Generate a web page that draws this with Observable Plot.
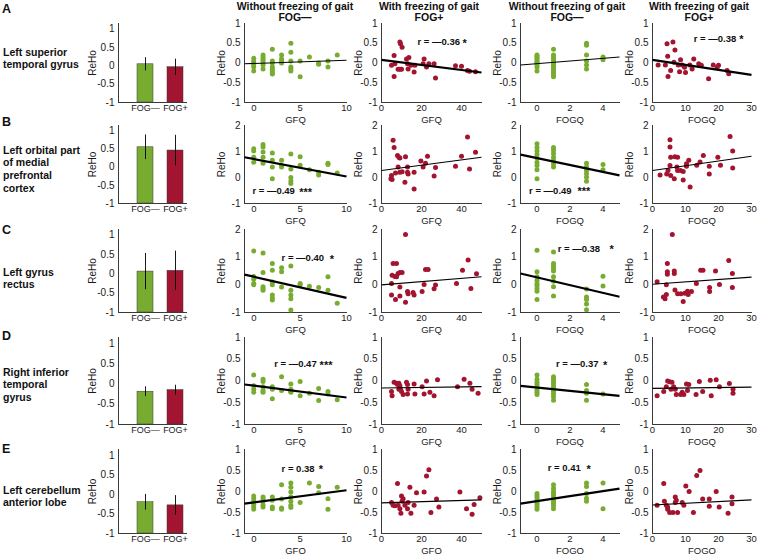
<!DOCTYPE html>
<html><head><meta charset="utf-8">
<script src="https://cdn.jsdelivr.net/npm/d3@7"></script>
<script src="https://cdn.jsdelivr.net/npm/@observablehq/plot@0.6"></script>
<style>
html,body{margin:0;padding:0;background:#fff;}
#chart{position:relative;width:758px;height:554px;overflow:hidden;background:#fff;font-family:Arial,'Liberation Sans',Helvetica,sans-serif;color:#111;}
.lab{position:absolute;white-space:nowrap;line-height:1.2;}
</style>
</head><body><div id="chart"></div>
<script>
// ---------- DATA ----------
const barGroups = ["FOG—", "FOG+"];
const barMeanA = [0.04, -0.04], barErrA = [0.18, 0.22];
const barMeanB = [0.55, 0.46], barErrB = [0.34, 0.42];
const barMeanC = [0.06, 0.08], barErrC = [0.47, 0.51];
const barMeanD = [-0.19, -0.15], barErrD = [0.12, 0.12];
const barMeanE = [-0.2, -0.28], barErrE = [0.2, 0.25];

const regionA = ["Left superior", "temporal gyrus"];
const regionB = ["Left orbital part", "of medial", "prefrontal", "cortex"];
const regionC = ["Left gyrus", "rectus"];
const regionD = ["Right inferior", "temporal", "gyrus"];
const regionE = ["Left cerebellum", "anterior lobe"];
const rowLetters = ["A", "B", "C", "D", "E"];
const colTitles = [["Without freezing of gait", "FOG—"], ["With freezing of gait", "FOG+"], ["Without freezing of gait", "FOG—"], ["With freezing of gait", "FOG+"]];
const xLabels = ["GFQ", "GFQ", "FOGQ", "FOGQ"];

// scatter points [score, ReHo]
const A1 = [[0,0.12],[0,0.05],[0,0],[0,-0.05],[0,-0.1],[0,-0.2],[1,0.2],[1,0.15],[1,0.1],[1,0.05],[1,0],[1,-0.05],[1,-0.15],[2,0.35],[2,0.05],[2,0],[2,-0.1],[2,-0.15],[2,-0.2],[2,-0.25],[2,-0.28],[3,0.2],[3,0.1],[3,0.05],[3,0],[4,0.5],[4,0.27],[4,0.05],[4,-0.1],[4,-0.15],[4,-0.2],[5,0.05],[5,-0.35],[6,0.15],[7,0],[7,-0.03],[8,0.05],[8,-0.1],[9,0.2]];
const A2 = [[6.3,0.19],[6.7,-0.02],[9.2,0.53],[9.5,0.49],[10.3,0.4],[6.3,-0.34],[8.3,-0.16],[9.2,-0.16],[10,-0.16],[5,-0.06],[12.5,0.1],[13.7,0.14],[13,-0.02],[14.7,-0.06],[13.3,-0.15],[16.7,-0.06],[16.3,-0.23],[20.8,-0.02],[21.3,0.1],[22.5,-0.1],[23.7,-0.02],[26.3,-0.02],[27,-0.38],[37,-0.07],[40,-0.08],[43,-0.19],[44,-0.21],[47,-0.22]];
const A3 = [[0,0.2],[0,0.17],[0,0.13],[0,0.1],[0,0.05],[0,0.02],[0,0],[0,-0.05],[0,-0.1],[0,-0.2],[1,0.35],[1,0.2],[1,0.15],[1,0.1],[1,0.05],[1,0],[1,-0.02],[1,-0.05],[1,-0.1],[1,-0.15],[1,-0.2],[1,-0.25],[1,-0.3],[1,-0.35],[3,0.5],[3,0.45],[3,0.2],[3,0.05],[3,-0.05],[3,-0.15],[4,0.15],[4,0.12],[4,0.08]];
const A4 = [[1.7,-0.05],[3.9,-0.05],[4.4,0.49],[4.6,0.17],[4.7,-0.34],[5.5,-0.19],[6.5,0.02],[6.2,0.53],[6.8,0.33],[8.2,-0.22],[7.8,-0.05],[8.5,0.08],[9,-0.05],[10,-0.24],[9.7,-0.11],[11.3,-0.05],[12,-0.15],[12.5,0.1],[14,-0.02],[14.8,-0.06],[17,-0.4],[18.4,-0.05],[19.6,-0.11],[20,-0.06],[22.6,-0.19],[23.1,-0.27]];

const B1 = [[0,1.11],[0,1.02],[0,0.78],[0,0.59],[1,1.27],[1,1.17],[1,0.98],[1,0.78],[1,0.55],[2,0.94],[2,0.66],[2,0.4],[2,-0.05],[3,0.66],[3,0.47],[3,0.4],[4,0.9],[4,0.33],[4,0],[4,-0.13],[4,-0.23],[5,0.8],[5,0.47],[6,0.3],[7,0.2],[7,0.1],[8,0.55],[8,0.5],[9,0.17]];
const B2 = [[5.8,1.43],[6.3,1.15],[7,0.17],[5,0.08],[4.7,-0.05],[5.3,-0.08],[8,0.85],[8.7,0.78],[9.2,0.75],[8.3,0.4],[9.2,0.2],[10.3,0.22],[11.7,-0.18],[12,0.8],[13,0.4],[13,0.2],[13.3,0.13],[16.3,-0.44],[16.3,0.2],[19.7,0.63],[20.8,0.4],[22,0.55],[23,0.82],[26.3,0.06],[27,0.38],[37,0.43],[40,0.82],[43,1.56],[44,0.33],[47,0.97]];
const B3 = [[0,1.3],[0,1.15],[0,1.02],[0,0.88],[0,0.75],[0,0.59],[0,0.46],[0,0.3],[0,-0.05],[1,1.15],[1,1.05],[1,0.92],[1,0.78],[1,0.66],[1,0.53],[1,0.4],[3,0.55],[3,0.4],[3,0.27],[3,0.14],[3,0.01],[3,-0.14],[4,0.5],[4,0.3]];
const B4 = [[2.3,0.1],[4.3,0.13],[4.7,0.27],[5.3,1.45],[5.3,1.17],[5.5,0.78],[5.3,0.46],[5.5,0.08],[6.6,-0.05],[6.8,0.8],[7.6,0.78],[7.4,0.4],[7.6,0.27],[8.5,0.27],[9.3,0.23],[9.3,-0.1],[10.3,0.43],[10.3,0.53],[11,0.66],[11.4,-0.37],[13.4,0.47],[14.4,0.6],[15.4,0.85],[17.2,0.13],[17.2,0.43],[19.8,0.78],[20.6,0.47],[23.5,1.58],[24.3,1.02],[24.3,0.37]];

const C1 = [[0,1.22],[0,0.3],[0,0.2],[0,0.05],[0,0],[1,1.15],[1,0.45],[1,-0.07],[1,-0.13],[1,-0.2],[2,0.77],[2,0.53],[2,0.1],[2,0],[2,-0.37],[2,-0.48],[2,-0.55],[3,0.62],[3,0.47],[3,-0.08],[4,0.68],[4,-0.2],[4,-0.37],[4,-0.5],[4,-0.91],[5,0.05],[5,0],[6,-0.05],[7,-0.1],[8,0.29],[8,-0.2],[9,-0.67]];
const C2 = [[12,1.82],[5.8,0.77],[7.5,0.77],[5.3,0.35],[7.5,0.29],[8.3,0.41],[9.2,0.45],[10.3,0.45],[6.7,0.3],[5,0.05],[5,-0.37],[7,-0.53],[9.2,-0.08],[9.2,-0.4],[12,-0.63],[13,-0.24],[13.3,-0.32],[15.8,-0.28],[16.3,-0.37],[20.3,-0.24],[21.3,0.01],[22,0.55],[23.3,0.55],[26.3,-0.14],[27,-0.01],[37.5,0.05],[40.5,0.53],[43.3,0.9],[44.7,-0.13],[47.5,0.4]];
const C3 = [[0,1.25],[0,0.47],[0,0.29],[0,0.17],[0,0.05],[0,-0.02],[0,-0.13],[0,-0.23],[0,-0.53],[1,1.19],[1,0.77],[1,0.68],[1,0.6],[1,0.5],[1,0.29],[1,0.13],[1,-0.07],[1,-0.4],[3,-0.15],[3,-0.44],[3,-0.53],[3,-0.69],[3,-0.9],[4,0.31],[4,-0.04]];
const C4 = [[1.4,0.11],[6,1.82],[4.5,0.77],[4.5,0.47],[4.5,0.38],[4.2,0],[4.2,-0.35],[3.3,-0.44],[3.8,-0.5],[6.6,0.41],[6.6,0.5],[6.8,-0.19],[7.6,-0.32],[8.6,-0.32],[9.3,-0.6],[9.8,-0.3],[10.6,-0.23],[10.8,-0.35],[11.8,-0.24],[13.3,0.05],[14.6,0.53],[15.3,0.53],[17.3,-0.1],[17.3,-0.24],[19.1,0.5],[20.3,0.01],[23.1,0.88],[24.2,0.41],[24.2,-0.1]];

const D1 = [[0,0.14],[0,-0.11],[0,-0.19],[0,-0.26],[1,0.04],[1,-0.01],[1,-0.13],[1,-0.22],[1,-0.26],[2,-0.13],[2,-0.19],[2,-0.41],[3,0.1],[3,-0.22],[4,-0.07],[4,-0.19],[4,-0.24],[4,-0.26],[5,-0.01],[5,-0.34],[6,-0.28],[7,-0.17],[7,-0.45],[8,-0.24],[8,-0.3],[9,-0.43]];
const D2 = [[5,-0.24],[5.3,-0.34],[6.3,-0.03],[7.5,-0.05],[8,-0.08],[8.7,-0.05],[9.2,-0.11],[8.7,-0.19],[9.5,-0.19],[10,-0.24],[10.8,-0.31],[12.5,-0.03],[13,-0.08],[13.3,-0.19],[13,-0.3],[16.3,-0.07],[16.7,-0.3],[20.3,-0.13],[21.3,-0.3],[22.5,0],[24.2,-0.26],[26.3,-0.34],[28,0.03],[38,-0.13],[41.3,0.04],[44.2,-0.05],[45.3,-0.19],[48.3,-0.28]];
const D3 = [[0,0.14],[0,0.04],[0,-0.03],[0,-0.08],[0,-0.15],[0,-0.21],[0,-0.26],[0,-0.31],[1,0.1],[1,0.04],[1,-0.01],[1,-0.07],[1,-0.13],[1,-0.19],[1,-0.24],[1,-0.3],[1,-0.36],[1,-0.44],[3,-0.08],[3,-0.22],[3,-0.28],[3,-0.44],[4,-0.3]];
const D4 = [[1.4,-0.34],[3.4,-0.24],[4.2,-0.13],[4.6,0],[5.2,-0.02],[5.9,-0.03],[5.6,-0.19],[6.4,-0.13],[6.9,-0.19],[7.2,-0.31],[8.5,-0.31],[9,-0.26],[9.5,-0.31],[10.3,-0.07],[11,-0.08],[10.6,-0.22],[13.2,-0.31],[14.2,-0.01],[15.2,-0.24],[17.5,0.02],[17.8,-0.34],[19.3,0.03],[20.3,-0.13],[23.3,-0.06],[24.4,-0.19],[24.4,-0.28]];

const E1 = [[0,-0.11],[0,-0.17],[0,-0.23],[0,-0.31],[0,-0.37],[0,-0.42],[1,-0.13],[1,-0.18],[1,-0.24],[1,-0.32],[1,-0.37],[2,-0.13],[2,-0.21],[2,-0.37],[2,-0.41],[3,0.16],[3,-0.18],[3,-0.39],[3,-0.42],[4,0.2],[4,0.1],[4,-0.01],[4,-0.13],[4,-0.23],[4,-0.33],[4,-0.38],[5,-0.26],[6,0.2],[7,0.12],[7,-0.03],[8,-0.17],[8,-0.42],[9,0.1]];
const E2 = [[5,-0.26],[5.8,-0.33],[6.7,-0.34],[8,0.19],[8.3,-0.33],[9.2,-0.41],[9.7,-0.52],[10,-0.11],[10.8,-0.17],[10.3,-0.23],[11.7,-0.33],[13,-0.41],[13.3,-0.26],[14.2,0.1],[14.7,-0.52],[16.3,-0.33],[17.5,-0.03],[21.3,-0.01],[22.5,0.37],[23.7,0.52],[24.7,-0.5],[27.5,-0.18],[28.7,-0.37],[39.2,-0.01],[42.5,-0.41],[45.3,-0.54],[46.3,-0.31],[49.2,-0.15]];
const E3 = [[0,-0.05],[0,-0.1],[0,-0.15],[0,-0.21],[0,-0.26],[0,-0.31],[0,-0.37],[0,-0.42],[1,0.16],[1,0.08],[1,0],[1,-0.05],[1,-0.1],[1,-0.17],[1,-0.23],[1,-0.28],[1,-0.34],[1,-0.41],[3,0.2],[3,0.12],[3,-0.05],[3,-0.16],[3,-0.23],[4,0.2],[4,-0.41]];
const E4 = [[1.4,-0.33],[3.4,0.19],[3.6,-0.23],[4.2,-0.33],[4.6,-0.37],[4.6,-0.42],[5.2,-0.5],[6.2,-0.5],[6.9,-0.26],[6.9,-0.13],[7.2,-0.21],[7.6,-0.5],[9,-0.26],[9.5,-0.33],[10.1,0.13],[11.1,0],[12.4,-0.5],[13.4,0.38],[14.4,0.5],[15.2,-0.18],[17.2,-0.35],[17.2,-0.18],[19.3,0],[20.2,-0.37],[22.9,-0.52],[24.1,-0.13],[24.1,-0.29]];

// fitted lines [xStart, yStart, xEnd, yEnd] per column
const fitA = [[-1,-0.02,10,0.07],[0,0.08,50,-0.24],[-1,-0.05,5,0.15],[0,0.08,30,-0.3]];
const fitB = [[-1,0.78,10,0.04],[0,0.27,50,0.78],[-1,0.88,5,0.08],[0,0.27,30,0.82]];
const fitC = [[-1,0.37,10,-0.47],[0,0,50,0.29],[-1,0.41,5,-0.43],[0,0.02,30,0.28]];
const fitD = [[-1,-0.08,10,-0.38],[0,-0.16,50,-0.13],[-1,-0.11,5,-0.34],[0,-0.17,30,-0.14]];
const fitE = [[-1,-0.29,10,0.03],[0,-0.27,50,-0.2],[-1,-0.29,5,0.07],[0,-0.32,30,-0.2]];

// correlation notes [r text, stars] per column (null = not significant)
const statA = [null, ["r = —0.36", "*"], null, ["r = —0.38", "*"]];
const statB = [["r = —0.49", "***"], null, ["r = —0.49", "***"], null];
const statC = [["r = —0.40", "*"], null, ["r = —0.38", "*"], null];
const statD = [["r = —0.47", "***"], null, ["r = —0.37", "*"], null];
const statE = [["r = 0.38", "*"], null, ["r = 0.41", "*"], null];

// ---------- LAYOUT / STYLE ----------
const GREEN = "#77AC30", RED = "#A2142F", AX = "#3a3a3a";
const FONT = "Arial, 'Liberation Sans', Helvetica, sans-serif";
const fmt = d => String(d);
const COLS = [
  {x0: 118, x1: 186},
  {x0: 244, x1: 346, xd: [-1, 10], xt: [0, 5, 10]},
  {x0: 381, x1: 481, xd: [0, 50], xt: [0, 20, 40]},
  {x0: 520, x1: 619, xd: [-1, 5], xt: [0, 2, 4]},
  {x0: 652, x1: 751, xd: [0, 30], xt: [0, 10, 20, 30]}
];
const Y1 = [-1, -0.5, 0, 0.5, 1], Y2 = [-1, 0, 1, 2];
const ROWS = [
  {y0: 23, y1: 102, yd: [-1, 1], yt: Y1, letterY: 9, regY: 52},
  {y0: 125, y1: 203, yd: [-1, 2], yt: Y2, letterY: 122, regY: 150},
  {y0: 229, y1: 312, yd: [-1, 2], yt: Y2, letterY: 230, regY: 272},
  {y0: 337, y1: 424, yd: [-1, 1], yt: Y1, letterY: 336, regY: 372},
  {y0: 449, y1: 533, yd: [-1, 1], yt: Y1, letterY: 449, regY: 490}
];
// annotation anchor positions in data units [rx, ry, starX]
const NOTEPOS = [
  [null, [18, 0.53, 40.5], null, [12.5, 0.61, 26.3]],
  [[-0.15, -0.53, 4.9], null, [-0.48, -0.5, 2.45], null],
  [[3.0, 0.96, 8.2], null, [1.25, 1.31, 4.4], null],
  [[2.2, 0.39, 7.1], null, [1.15, 0.39, 4.0], null],
  [[3.0, 0.54, 7.0], null, [0.65, 0.56, 3.0], null]
];

const ML = 45, MR = 12, MT = 10, MB = 30;
const root = document.getElementById("chart");

function place(el, left, top) {
  el.style.position = "absolute";
  el.style.left = left + "px";
  el.style.top = top + "px";
  el.style.overflow = "visible";
  root.appendChild(el);
}
function label(txt, x, y, size, weight, center) {
  const d = document.createElement("div");
  d.className = "lab";
  d.textContent = txt;
  d.style.fontSize = size + "px";
  d.style.fontWeight = weight;
  d.style.left = x + "px";
  d.style.top = (y - size * 0.6) + "px";
  if (center) d.style.transform = "translateX(-50%)";
  root.appendChild(d);
}

function scatterPanel(ri, ci, pts, fit, stat, color) {
  const R = ROWS[ri], C = COLS[ci + 1];
  const sig = stat !== null;
  const pos = NOTEPOS[ri][ci];
  const marks = [
    Plot.axisX({ticks: C.xt, tickSize: 0, tickPadding: 2, tickFormat: fmt, label: xLabels[ci], labelAnchor: "center", labelArrow: "none", labelOffset: 20, fontSize: 9.5}),
    Plot.axisY({ticks: R.yt, tickSize: 0, tickPadding: 4, tickFormat: fmt, label: "ReHo", labelAnchor: "center", labelArrow: "none", labelOffset: 27, fontSize: 10}),
    Plot.frame({anchor: "left", stroke: AX}),
    Plot.frame({anchor: "bottom", stroke: AX}),
    Plot.dot(pts, {x: d => d[0], y: d => d[1], r: 2.5, fill: color, stroke: "none"}),
    Plot.link([fit], {x1: d => d[0], y1: d => d[1], x2: d => d[2], y2: d => d[3], stroke: "#000", strokeWidth: sig ? 2.2 : 1.1})
  ];
  if (sig) {
    marks.push(Plot.text([stat], {x: () => pos[0], y: () => pos[1], text: d => d[0], textAnchor: "start", fontWeight: "bold", fontSize: 9.5, fill: "#111"}));
    marks.push(Plot.text([stat], {x: () => pos[2], y: () => pos[1], text: d => d[1], textAnchor: "start", fontWeight: "bold", fontSize: 11, dy: 1, fill: "#111"}));
  }
  const svg = Plot.plot({
    width: (C.x1 - C.x0) + ML + MR, height: (R.y1 - R.y0) + MT + MB,
    marginLeft: ML, marginRight: MR, marginTop: MT, marginBottom: MB,
    style: {fontFamily: FONT, fontSize: "10px", color: "#1a1a1a", background: "transparent", overflow: "visible"},
    x: {domain: C.xd}, y: {domain: R.yd},
    marks
  });
  place(svg, C.x0 - ML, R.y0 - MT);
}

function barPanel(ri, means, errs) {
  const R = ROWS[ri], C = COLS[0];
  const rows = barGroups.map((g, i) => ({g, v: means[i], lo: means[i] - errs[i], hi: means[i] + errs[i], c: i === 0 ? GREEN : RED}));
  const svg = Plot.plot({
    width: (C.x1 - C.x0) + ML + MR, height: (R.y1 - R.y0) + MT + MB,
    marginLeft: ML, marginRight: MR, marginTop: MT, marginBottom: MB,
    style: {fontFamily: FONT, fontSize: "10px", color: "#1a1a1a", background: "transparent", overflow: "visible"},
    x: {type: "band", domain: barGroups, range: [ML + 19, ML + 65], paddingInner: 0.47, paddingOuter: 0},
    y: {domain: [-1, 1.15]},
    marks: [
      Plot.axisX({tickSize: 0, tickPadding: 2, fontSize: 9, label: null}),
      Plot.axisY({ticks: Y1, tickSize: 0, tickPadding: 4, tickFormat: fmt, label: "ReHo", labelAnchor: "center", labelArrow: "none", labelOffset: 30, fontSize: 10}),
      Plot.barY(rows, {x: "g", y1: () => -1, y2: "v", fill: "c", stroke: "#3a3a3a", strokeWidth: 0.5}),
      Plot.ruleX(rows, {x: "g", y1: "lo", y2: "hi", stroke: "#000", strokeWidth: 0.9}),
      Plot.frame({anchor: "left", stroke: AX}),
      Plot.frame({anchor: "bottom", stroke: AX})
    ]
  });
  place(svg, C.x0 - ML, R.y0 - MT);
}

const scat = [[A1, A2, A3, A4], [B1, B2, B3, B4], [C1, C2, C3, C4], [D1, D2, D3, D4], [E1, E2, E3, E4]];
const fits = [fitA, fitB, fitC, fitD, fitE];
const stats = [statA, statB, statC, statD, statE];
const bars = [[barMeanA, barErrA], [barMeanB, barErrB], [barMeanC, barErrC], [barMeanD, barErrD], [barMeanE, barErrE]];
const regions = [regionA, regionB, regionC, regionD, regionE];

for (let ri = 0; ri < 5; ri++) {
  barPanel(ri, bars[ri][0], bars[ri][1]);
  for (let ci = 0; ci < 4; ci++) {
    scatterPanel(ri, ci, scat[ri][ci], fits[ri][ci], stats[ri][ci], ci % 2 === 0 ? GREEN : RED);
  }
  label(rowLetters[ri], 2, ROWS[ri].letterY, 12.5, "bold", false);
  regions[ri].forEach((t, k) => label(t, 3, ROWS[ri].regY + k * 12.6, 10.5, "bold", false));
}
const titleX = [295, 429, 567, 699];
colTitles.forEach((t, i) => {
  label(t[0], titleX[i], 6, 10.5, "bold", true);
  label(t[1], titleX[i], 17.5, 10.5, "bold", true);
});
</script>
</body></html>
